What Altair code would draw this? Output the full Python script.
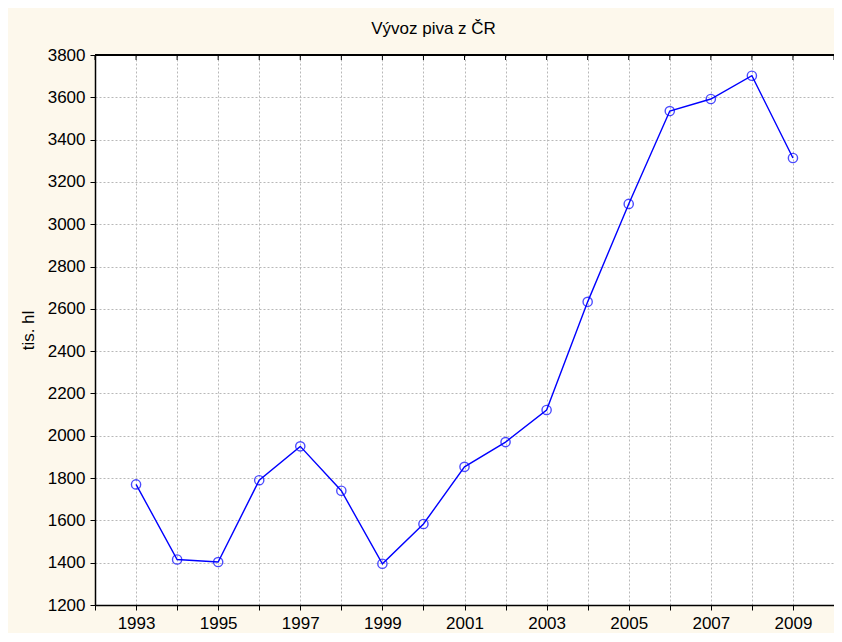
import altair as alt
import pandas as pd

years = list(range(1993, 2010))
values = [1770, 1415, 1403, 1790, 1950, 1740, 1395, 1583, 1853, 1970, 2122,
          2633, 3096, 3535, 3592, 3702, 3313]
y_ticks = list(range(1200, 3801, 200))
x_ticks = list(range(1992, 2011))

df = pd.DataFrame({"year": years, "value": values})
tick_df = pd.DataFrame({"year": x_ticks})

W, H = 739, 550
font = "Liberation Sans"
FS = 17

xscale = alt.Scale(domain=[1992, 2010], nice=False, zero=False)
yscale = alt.Scale(domain=[1200, 3800], nice=False, zero=False)

xaxis = alt.Axis(values=x_ticks, format="d", title=None,
                 labelExpr="datum.value % 2 == 1 ? datum.label : ''",
                 grid=True, gridDash=[2, 2], gridColor="#b8b8b8", gridWidth=1,
                 domainColor="black", domainWidth=1.5, tickColor="black", tickSize=5,
                 labelFont=font, labelFontSize=FS, labelColor="black", labelPadding=5)
yaxis = alt.Axis(values=y_ticks, format="d", title="tis. hl",
                 grid=True, gridDash=[2, 2], gridColor="#b8b8b8", gridWidth=1,
                 domainColor="black", domainWidth=1.5, tickColor="black", tickSize=5,
                 labelFont=font, labelFontSize=FS, labelColor="black", labelPadding=5,
                 titleFont=font, titleFontSize=FS, titleFontWeight="normal",
                 titleColor="black", titlePadding=10)

base = alt.Chart(df)
line = base.mark_line(color="#0000ff", strokeWidth=1.4).encode(
    x=alt.X("year:Q", scale=xscale, axis=xaxis),
    y=alt.Y("value:Q", scale=yscale, axis=yaxis),
)
pts = base.mark_point(shape="circle", filled=False, color="#0000ff", size=85,
                      strokeWidth=1.4).encode(
    x=alt.X("year:Q", scale=xscale),
    y=alt.Y("value:Q", scale=yscale),
)
top_ticks = alt.Chart(tick_df).mark_rule(color="black", strokeWidth=1).encode(
    x=alt.X("year:Q", scale=xscale),
    y=alt.value(0), y2=alt.value(5),
)
top_line = alt.Chart(tick_df).mark_rule(color="black", strokeWidth=1.5).encode(
    x=alt.value(0), x2=alt.value(W), y=alt.value(0),
)

chart = alt.layer(line, pts, top_ticks, top_line).properties(
    width=W, height=H,
    title=alt.TitleParams("Vývoz piva z ČR", font=font, fontSize=FS,
                          fontWeight="normal", color="black", anchor="middle",
                          offset=8, dx=-31),
    background="#fdf8ec",
    padding={"left": 87, "top": 47, "right": 0, "bottom": 28},
    autosize=alt.AutoSizeParams(type="none"),
).configure_view(stroke=None, fill="white")

chart.save("out.html", embed_options={"renderer": "svg", "actions": False})
